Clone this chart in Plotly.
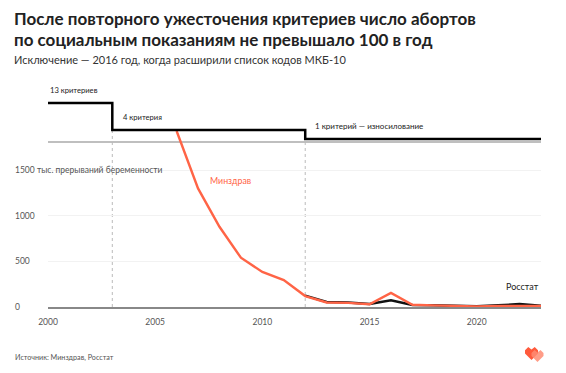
import plotly.graph_objects as go

# ---- data ----
years_mz = [2006, 2007, 2008, 2009, 2010, 2011, 2012, 2013, 2014, 2015, 2016, 2017, 2018, 2019, 2020, 2021, 2022, 2023]
minzdrav = [1930, 1300, 880, 540, 385, 295, 120, 50, 45, 30, 155, 25, 18, 15, 6, 12, 15, 12]
years_rs = [2012, 2013, 2014, 2015, 2016, 2017, 2018, 2019, 2020, 2021, 2022, 2023]
rosstat = [125, 55, 50, 32, 75, 22, 18, 15, 8, 18, 32, 15]

crit_years = [2000, 2003, 2012, 2023]
crit_counts = [13, 4, 1, 1]
crit_labels = ["13 критериев", "4 критерия", "1 критерий — износилование"]

y_ticks = [0, 500, 1000, 1500]
y_tick_text = ["0", "500", "1000", "1500 тыс. прерываний беременности"]
x_ticks = [2000, 2005, 2010, 2015, 2020]

# page body has an 8px margin; draw the figure that much smaller
OFF = 8
W, H = 566 - OFF, 373 - OFF
L, R, T, B = 48, 541, 95, 307      # plot area in window pixels
PXU = 0.0912          # px per unit on main axis
PXC = 3.0             # px per criterion
C0 = 142              # window pixel y of zero criteria
FONT = "Lato"
ORANGE = "#FF6446"
GREY = "#555555"

def px(xp):
    return (xp - L) / (R - L)

def py(yp):
    return (B - yp) / (B - T)

fig = go.Figure()

fig.add_trace(go.Scatter(x=crit_years, y=crit_counts, yaxis="y2", mode="lines",
                         line=dict(color="#000000", width=2.5, shape="hv"),
                         hoverinfo="skip", showlegend=False))
fig.add_trace(go.Scatter(x=years_rs, y=rosstat, mode="lines",
                         line=dict(color="#111111", width=2.5),
                         showlegend=False))
fig.add_trace(go.Scatter(x=years_mz, y=minzdrav, mode="lines",
                         line=dict(color=ORANGE, width=2.4),
                         showlegend=False))

y2_lo = -(B - C0) / PXC
y2_hi = (C0 - T) / PXC

shapes = []
shapes.append(dict(type="line", xref="x", yref="y2", x0=crit_years[0], x1=crit_years[-1],
                   y0=0, y1=0, line=dict(color="#aaaaaa", width=1.5), layer="below"))
for yr, c in zip(crit_years[1:3], crit_counts[1:3]):
    shapes.append(dict(type="line", xref="x", yref="y2", x0=yr, x1=yr, y0=y2_lo, y1=c,
                       line=dict(color="#bbbbbb", width=1, dash="dot"), layer="below"))

def heart(cx, cy, s, color):
    pts = [(cx, cy + 0.5 * s), (cx - 0.5 * s, cy), (cx - 0.5 * s, cy - 0.25 * s),
           (cx - 0.25 * s, cy - 0.5 * s), (cx, cy - 0.3 * s), (cx + 0.25 * s, cy - 0.5 * s),
           (cx + 0.5 * s, cy - 0.25 * s), (cx + 0.5 * s, cy)]
    d = "M " + " L ".join(f"{px(a):.5f},{py(b):.5f}" for a, b in pts) + " Z"
    return dict(type="path", xref="paper", yref="paper", path=d,
                fillcolor=color, line=dict(width=0), layer="above")

shapes.append(heart(531.5, 353.5, 13, "#FF5A3C"))
shapes.append(heart(537.5, 356, 12, "rgba(255,140,115,0.85)"))

annotations = []
def txt(text, x, y, size, color="#222", anchor="left", bold=False, xref="paper", yref="paper",
        yanchor="middle", yshift=0):
    if bold:
        text = f"<b>{text}</b>"
    annotations.append(dict(text=text, x=x, y=y, xref=xref, yref=yref, showarrow=False,
                            xanchor=anchor, yanchor=yanchor, yshift=yshift,
                            font=dict(family=FONT, size=size, color=color)))

txt("После повторного ужесточения критериев число абортов", px(12), py(18), 17, "#222", bold=True)
txt("по социальным показаниям не превышало 100 в год", px(12), py(40), 17, "#222", bold=True)
txt("Исключение — 2016 год, когда расширили список кодов МКБ-10", px(12), py(59), 11, "#333")

txt(crit_labels[0], crit_years[0], crit_counts[0], 7.6, "#222", xref="x", yref="y2", yanchor="bottom", yshift=6)
txt(crit_labels[1], crit_years[1] + 0.4, crit_counts[1], 7.6, "#222", xref="x", yref="y2", yanchor="bottom", yshift=6)
txt(crit_labels[2], crit_years[2] + 0.35, crit_counts[2], 8, "#222", xref="x", yref="y2", yanchor="bottom", yshift=6)

for v, t in zip(y_ticks, y_tick_text):
    txt(t, px(13), v, 8.5, GREY, xref="paper", yref="y")

txt("Минздрав", 2007.45, 1390, 8.8, ORANGE, xref="x", yref="y")
txt("Росстат", 2023, 230, 9, "#222", anchor="right", xref="x", yref="y")
txt("Источник: Минздрав, Росстат", px(13), py(357), 7.2, GREY)

fig.update_layout(
    width=W, height=H,
    margin=dict(l=L - OFF, r=W - (R - OFF), t=T - OFF, b=H - (B - OFF), pad=0, autoexpand=False),
    paper_bgcolor="white", plot_bgcolor="white",
    showlegend=False,
    shapes=shapes, annotations=annotations,
    font=dict(family=FONT, color=GREY),
    xaxis=dict(range=[2000, 2023], tickvals=x_ticks, ticktext=[str(v) for v in x_ticks],
               showgrid=False, zeroline=False, showline=True, linecolor="#888888", linewidth=1.5,
               ticks="", tickfont=dict(size=8.5, color=GREY, family=FONT), ticklabelstandoff=6),
    yaxis=dict(range=[0, (B - T) / PXU], tickvals=y_ticks[1:], showticklabels=False,
               showgrid=True, gridcolor="#f2f2f2", gridwidth=1, zeroline=False, showline=False),
    yaxis2=dict(range=[y2_lo, y2_hi], overlaying="y", showgrid=False, zeroline=False,
                showticklabels=False, showline=False),
)

fig.write_html("out.html")
